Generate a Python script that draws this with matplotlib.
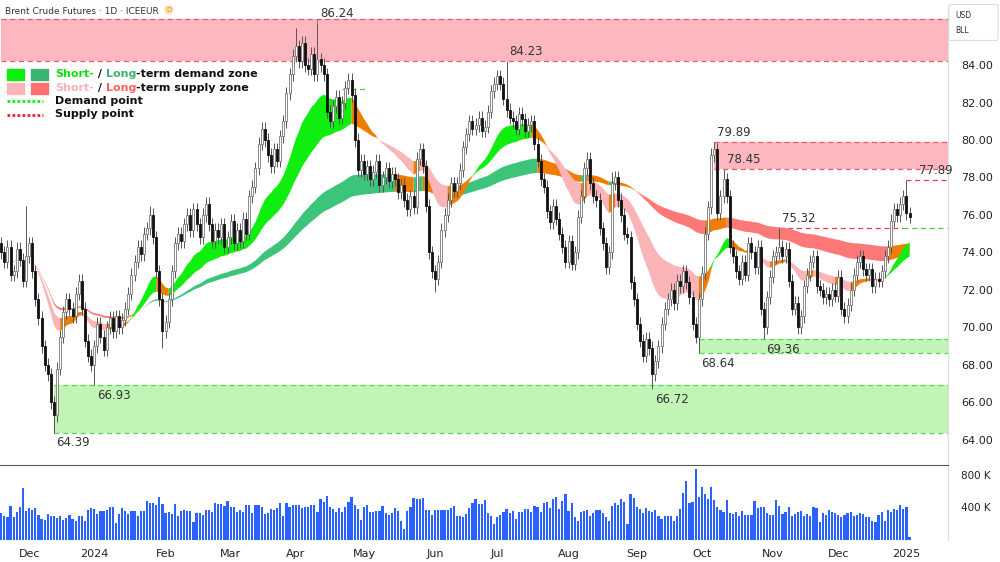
import numpy as np
import pandas as pd
import matplotlib
matplotlib.use("Agg")
import matplotlib.pyplot as plt
from matplotlib.patches import Rectangle, FancyBboxPatch

# ---------------- data ----------------
closes = [
 74.0, 73.5, 74.3, 72.8, 73.0, 74.2, 73.6, 72.5, 73.8, 74.5,
 73.0, 71.5, 70.5, 69.0, 68.0, 67.5, 66.0, 65.3, 67.8, 69.5,
 70.8, 71.5, 71.0, 70.6, 71.8, 72.5, 71.0, 69.3, 68.5, 68.0,
 69.0, 70.2, 69.5, 68.8, 70.0, 70.5, 69.8, 70.6, 70.0, 70.4,
 71.0, 71.8, 72.8, 73.5, 74.3, 73.9, 75.0, 75.3, 76.0, 74.8,
 73.0, 71.5, 69.8, 70.3, 71.5, 73.0, 74.5, 75.0, 74.6, 75.5,
 76.0, 75.2, 76.3, 75.5, 74.8, 76.0, 76.6, 75.5, 74.6, 75.2,
 74.8, 75.5, 74.3, 74.8, 75.7, 74.5, 75.2, 74.6, 75.8, 75.0,
 77.0, 77.5, 78.5, 79.8, 80.6, 80.0, 79.2, 78.6, 79.5, 78.9,
 80.2, 81.0, 82.5, 83.5, 84.5, 85.0, 84.2, 85.2, 84.0, 83.8,
 84.6, 83.5, 84.3, 84.0, 83.5, 81.5, 81.0, 81.8, 82.3, 81.2,
 82.0, 82.8, 83.2, 82.4, 80.0, 78.4, 78.9, 78.2, 78.6, 77.9,
 78.3, 78.9, 77.6, 78.0, 78.5, 77.8, 78.2, 77.9, 77.2, 77.6,
 76.8, 76.3, 77.0, 76.4, 79.0, 79.5, 78.6, 76.5, 74.0, 73.0,
 72.6, 73.5, 75.2, 76.0, 76.8, 77.7, 77.3, 77.7, 78.4, 79.6,
 80.3, 81.0, 80.6, 80.8, 81.2, 80.5, 80.7, 81.5, 82.6, 83.0,
 83.4, 83.0, 82.2, 81.6, 81.2, 81.0, 80.6, 81.4, 81.1, 80.5,
 80.8, 81.0, 79.8, 78.9, 77.9, 77.5, 76.2, 75.6, 76.5, 75.8,
 75.0, 74.3, 73.5, 74.6, 73.4, 74.0, 75.9, 77.0, 78.5, 79.0,
 77.7, 77.0, 76.8, 75.3, 74.5, 73.2, 74.0, 77.7, 78.0, 76.8,
 76.0, 75.0, 74.8, 72.4, 71.5, 70.2, 69.3, 68.5, 69.4, 68.9,
 67.5, 68.2, 69.0, 70.2, 71.0, 71.5, 72.0, 71.3, 72.5, 72.2,
 73.0, 72.4, 71.6, 70.2, 69.5, 71.5, 72.9, 75.0, 76.4, 79.2,
 79.5, 76.1, 77.0, 77.9, 77.0, 74.3, 73.8, 73.0, 72.6, 73.5,
 72.8, 74.5, 74.0, 73.2, 74.3, 71.0, 70.0, 71.6, 72.7, 73.8,
 74.0, 74.3, 73.8, 74.2, 72.5, 71.0, 71.3, 70.0, 70.6, 72.2,
 72.8, 73.5, 73.8, 72.2, 72.0, 71.6, 71.8, 71.5, 72.0, 71.7,
 72.7, 71.0, 70.6, 71.2, 72.0, 72.8, 73.5, 73.8, 73.1, 72.8,
 73.1, 72.2, 72.6, 72.5, 73.0, 73.8, 74.3, 75.7, 76.3, 76.0,
 76.6, 77.0, 76.1, 75.9,
]
first_open = 74.5
# notable wick extremes {bar index: price}
high_marks = {8: 76.5, 48: 76.5, 95: 86.0, 102: 86.24, 112: 83.6, 163: 84.23,
              197: 78.3, 230: 79.89, 233: 78.45, 251: 75.32, 292: 77.89}
low_marks = {17: 64.39, 30: 66.93, 52: 68.9, 140: 71.9, 210: 66.72, 225: 68.64, 246: 69.36}

volumes_k = [
 330, 300, 280, 420, 280, 340, 400, 640, 360, 390, 370, 390, 310, 260, 250, 320, 290, 290, 270, 300,
 250, 270, 310, 260, 230, 300, 300, 240, 370, 390, 380, 320, 360, 360, 370, 400, 400, 210, 320, 390,
 360, 320, 360, 360, 300, 360, 360, 480, 450, 460, 430, 530, 440, 330, 340, 320, 440, 290, 360, 370,
 360, 360, 220, 330, 330, 310, 370, 370, 350, 460, 440, 440, 420, 480, 400, 400, 350, 370, 350, 430,
 430, 330, 430, 430, 410, 320, 330, 380, 370, 390, 450, 290, 460, 410, 430, 430, 430, 390, 400, 410,
 430, 430, 350, 500, 470, 540, 410, 380, 340, 390, 340, 410, 470, 530, 430, 380, 250, 410, 430, 340,
 340, 360, 360, 420, 330, 310, 330, 390, 360, 230, 130, 360, 400, 520, 500, 500, 510, 370, 370, 310,
 370, 370, 370, 370, 370, 390, 420, 290, 290, 280, 320, 390, 450, 500, 440, 440, 490, 330, 300, 200,
 280, 310, 340, 380, 330, 360, 260, 340, 340, 380, 380, 350, 420, 410, 350, 450, 470, 390, 500, 530,
 380, 480, 570, 360, 450, 280, 240, 340, 360, 370, 290, 330, 370, 370, 330, 280, 240, 420, 450, 430,
 500, 470, 200, 570, 520, 400, 380, 330, 390, 360, 340, 370, 290, 260, 290, 300, 300, 230, 300, 380,
 580, 720, 460, 470, 870, 530, 650, 560, 500, 650, 490, 400, 370, 350, 490, 330, 320, 340, 300, 360,
 310, 310, 310, 480, 390, 400, 400, 330, 310, 310, 490, 420, 320, 340, 400, 300, 320, 350, 360, 290,
 320, 300, 400, 390, 220, 330, 310, 370, 350, 330, 310, 280, 310, 330, 340, 300, 310, 330, 320, 280,
 280, 230, 220, 310, 350, 240, 370, 340, 380, 370, 430, 380, 410, 40,
]
month_labels = ["Dec", "2024", "Feb", "Mar", "Apr", "May", "Jun", "Jul",
                "Aug", "Sep", "Oct", "Nov", "Dec", "2025"]

supply_zones = [(0, 84.23, 86.45), (230, 78.45, 79.89)]   # (start bar, low, high)
demand_zones = [(17, 64.39, 66.93), (225, 68.64, 69.36)]
supply_points = [(251, 75.32, 291), (292, 77.89, None)]
demand_points = [(291, 75.32, None), (110, 82.7, 118)]
labels = [(102, 86.24, "86.24", "above"), (163, 84.23, "84.23", "above"),
          (230, 79.89, "79.89", "above"), (233, 78.45, "78.45", "above"),
          (251, 75.32, "75.32", "above"), (295, 77.89, "77.89", "above"),
          (30, 66.93, "66.93", "below"), (17, 64.39, "64.39", "below"),
          (210, 66.72, "66.72", "below"), (225, 68.64, "68.64", "below"),
          (246, 69.36, "69.36", "below")]

# ---------------- derived ----------------
n = len(closes)
c = np.array(closes)
o = np.r_[first_open, c[:-1]]
hi = np.maximum(o, c) + 0.35
lo = np.minimum(o, c) - 0.35
for k, v in high_marks.items():
    hi[k] = v
for k, v in low_marks.items():
    lo[k] = v
idx = np.arange(n)
dates = pd.bdate_range("2023-11-20", periods=n)
vol = np.array(volumes_k[:n]) * 1000
vidx = np.arange(len(vol))

s = pd.Series(c)
ema = lambda p: s.ewm(span=p, adjust=True).mean().values
short_f, short_s = ema(20), ema(40)
long_f, long_s = ema(100), ema(170)

fig = plt.figure(figsize=(10, 5.62), dpi=100)
ax = fig.add_axes([0, 0.173, 0.948, 0.809])
axv = fig.add_axes([0, 0.039, 0.948, 0.134], sharex=ax)

XMAX = -0.4 + 948 / 3.1
ax.set_xlim(-0.4, XMAX)
ax.set_ylim(62.67, 86.93)

ORANGE = "#f07d00"
def ribbon(f, sl, demand_col, supply_col, z):
    top = np.maximum(f, sl); bot = np.minimum(f, sl)
    dem = (f > sl) & (c > bot)
    sup = (f < sl) & (c < top)
    neu = ~(dem | sup)
    for mask, col in [(dem, demand_col), (sup, supply_col), (neu, ORANGE)]:
        m2 = mask | np.r_[mask[1:], False]
        ax.fill_between(idx, bot, top, where=m2, color=col, lw=0, zorder=z)
ribbon(long_f, long_s, "#3cc47a", "#ff7878", 2)
ribbon(short_f, short_s, "#10ee10", "#fbb4b8", 2.1)

for st, l, h in supply_zones:
    ax.add_patch(Rectangle((st, l), XMAX - st, h - l, color="#fdb8bf", lw=0, zorder=1))
    ax.hlines([l, h], st, XMAX, colors="#f0556a", linestyles=(0, (4, 3)), lw=0.9, zorder=1.5)
for st, l, h in demand_zones:
    ax.add_patch(Rectangle((st, l), XMAX - st, h - l, color="#c0f5b5", lw=0, zorder=1))
    ax.hlines([l, h], st, XMAX, colors="#55d655", linestyles=(0, (4, 3)), lw=0.9, zorder=1.5)
for st, p, en in supply_points:
    ax.hlines(p, st, XMAX if en is None else en, colors="#e8384f", linestyles=(0, (4, 3)), lw=0.9, zorder=1.5)
for st, p, en in demand_points:
    ax.hlines(p, st, XMAX if en is None else en, colors="#3cd63c", linestyles=(0, (4, 3)), lw=0.9, zorder=1.5)
ax.vlines(102, 86.24, 86.45, color="#888", lw=0.8)

# candles
up = c >= o
ax.vlines(idx, lo, hi, color="#555", lw=0.7, zorder=3)
ax.bar(idx[up], (c - o)[up], bottom=o[up], width=0.62, color="white", edgecolor="#777", lw=0.6, zorder=4)
ax.bar(idx[~up], (o - c)[~up], bottom=c[~up], width=0.62, color="#111", edgecolor="#111", lw=0.6, zorder=4)

for b, p, t, pos in labels:
    if pos == "above":
        ax.text(b + 1, p + 0.15, t, fontsize=8.5, color="#333", va="bottom", ha="left", zorder=6)
    else:
        ax.text(b + 0.8, p - 0.2, t, fontsize=8.5, color="#333", va="top", ha="left", zorder=6)

# axes styling
for a in (ax, axv):
    for sp in a.spines.values():
        sp.set_visible(False)
ax.tick_params(left=False, labelleft=False, bottom=False, labelbottom=False,
               right=False, labelright=True, labelsize=8, labelcolor="#222", pad=6)
ax.set_yticks(np.arange(64, 87, 2))
ax.set_yticklabels([f"{v:.2f}" for v in np.arange(64, 87, 2)])
ax.spines["right"].set_visible(True); ax.spines["right"].set_color("#ddd")

axv.bar(vidx, vol, width=0.7, color="#2962ff", zorder=2)
axv.set_ylim(0, 923000)
axv.set_yticks([400000, 800000])
axv.set_yticklabels(["400 K", "800 K"])
axv.tick_params(left=False, labelleft=False, right=False, labelright=True,
                bottom=False, labelsize=7.5, labelcolor="#222", pad=6)
axv.spines["top"].set_visible(True); axv.spines["top"].set_color("#555")
axv.spines["right"].set_visible(True); axv.spines["right"].set_color("#ddd")
mstart = [i for i in range(1, n) if dates[i].month != dates[i - 1].month]
axv.set_xticks(mstart)
axv.set_xticklabels(month_labels[:len(mstart)])
axv.tick_params(axis="x", labelsize=8, labelcolor="#222", pad=3)

# header
fig.canvas.draw()
r = fig.canvas.get_renderer()
ht = fig.text(0.005, 0.988, "Brent Crude Futures · 1D · ICEEUR", fontsize=6.5, color="#333", va="top")
hx = (ht.get_window_extent(r).x1 + 10) / 1000
fig.text(hx, 0.988, "D", fontsize=5, color="#e08a00", va="top", ha="center",
         bbox=dict(boxstyle="circle,pad=0.25", fc="#fde2b8", ec="none"))
fig.patches.append(FancyBboxPatch((0.951, 0.93), 0.045, 0.06, boxstyle="round,pad=0.002",
                                  fc="white", ec="#ddd", lw=0.8, transform=fig.transFigure,
                                  figure=fig, zorder=10))
fig.text(0.955, 0.973, "USD", fontsize=5.5, color="#333", va="center", zorder=11)
fig.text(0.955, 0.945, "BLL", fontsize=5.5, color="#333", va="center", zorder=11)

# legend
def swatch(x0, y0, col):
    fig.patches.append(Rectangle((x0 / 1000, 1 - y0 / 562), 17 / 1000, 11 / 562, color=col,
                                 transform=fig.transFigure, figure=fig))
swatch(7, 80, "#10ee10"); swatch(31, 80, "#3cb371")
swatch(7, 94, "#fbb4b8"); swatch(31, 94, "#ff7070")
fig.add_artist(plt.Line2D([7 / 1000, 43 / 1000], [1 - 101 / 562] * 2, color="#10ee10", lw=2, ls=(0, (1, 0.8))))
fig.add_artist(plt.Line2D([7 / 1000, 43 / 1000], [1 - 115 / 562] * 2, color="#e8203a", lw=2, ls=(0, (1, 0.8))))

def rich(y, parts):
    x = 0.055
    for t, col in parts:
        tt = fig.text(x, 1 - y / 562, t, fontsize=8, fontweight="bold", color=col, va="center")
        x += tt.get_window_extent(r).width / 1000
rich(74, [("Short-", "#10e010"), (" / ", "#111"), ("Long", "#3cb371"), ("-term demand zone", "#111")])
rich(88, [("Short-", "#fbb4b8"), (" / ", "#111"), ("Long", "#ff6060"), ("-term supply zone", "#111")])
rich(101, [("Demand point", "#111")])
rich(114, [("Supply point", "#111")])

fig.savefig("out.png", dpi=100, facecolor="white")
